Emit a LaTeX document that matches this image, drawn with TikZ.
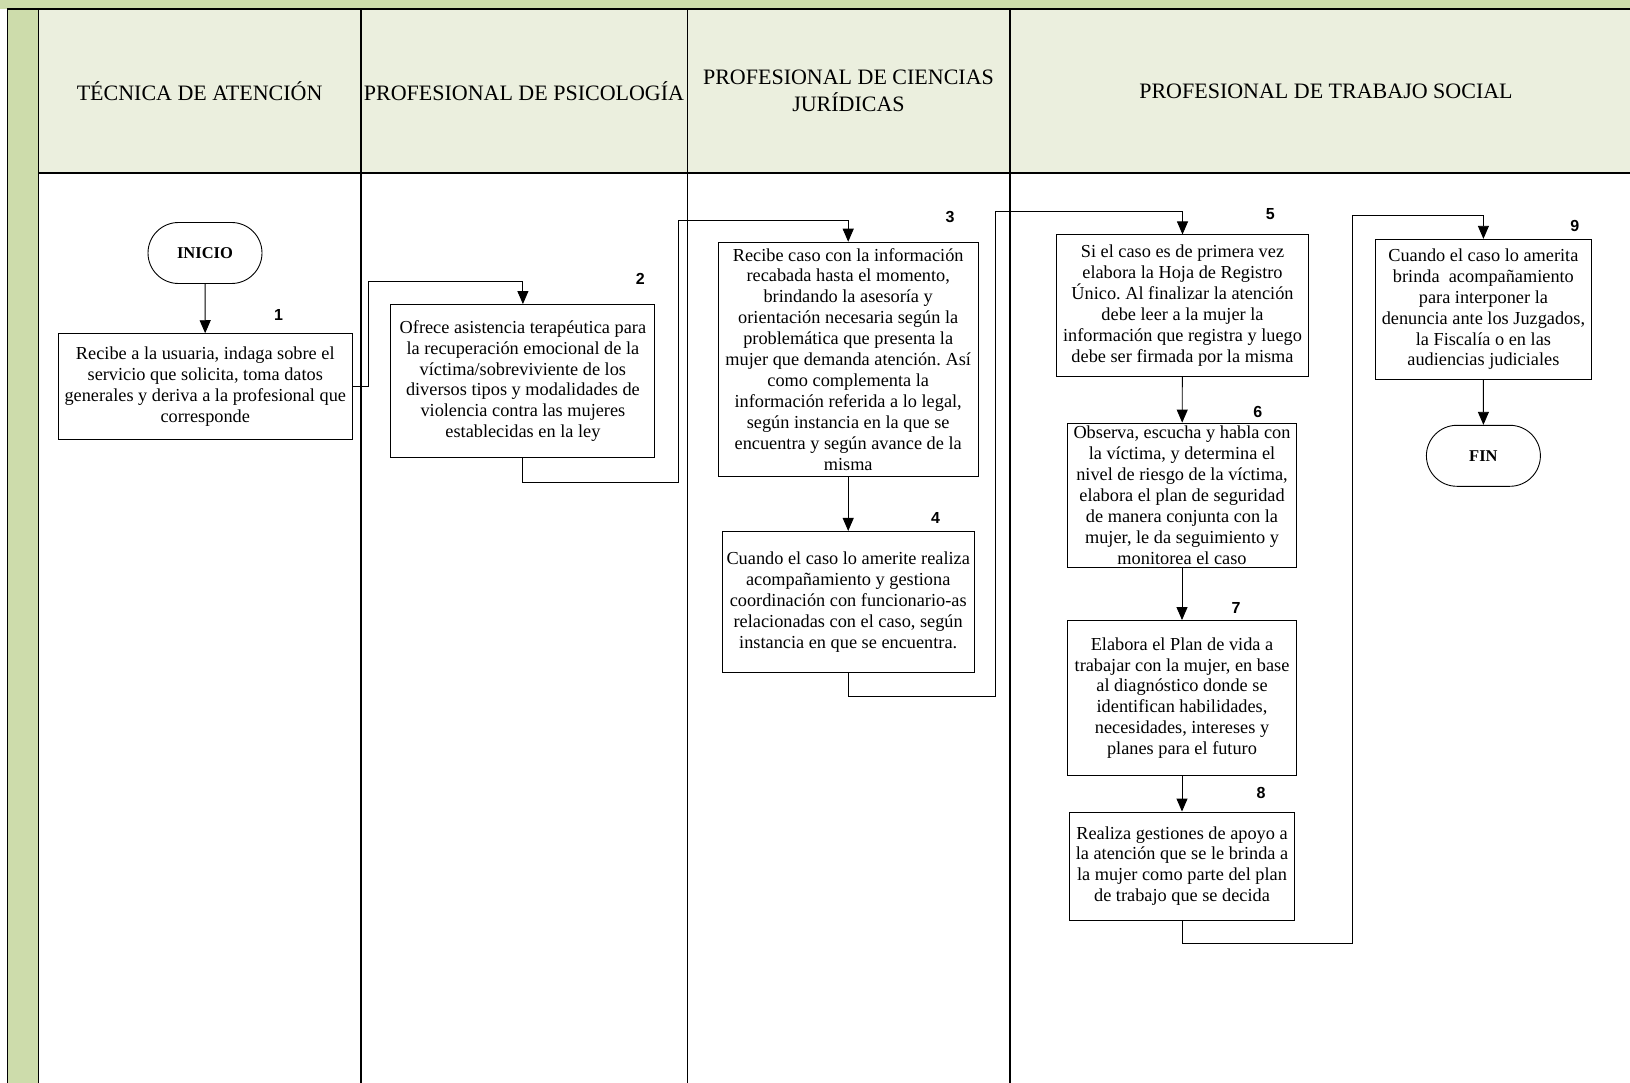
\documentclass[tikz,border=0pt]{standalone}
\usepackage{fontspec}
\setmainfont{Liberation Serif}
\newfontfamily\numfont{Liberation Sans}
\usetikzlibrary{arrows.meta,shapes.misc}
\definecolor{bandaverde}{HTML}{CDDCAB}
\definecolor{cabecera}{HTML}{EBEFDE}
\frenchspacing

\begin{document}
\begin{tikzpicture}[x=1pt,y=-1pt,
  paso/.style={draw,line width=0.9pt,align=center,inner sep=0pt,
    font=\fontsize{18.3}{20.9}\selectfont},
  terminal/.style={draw,rounded rectangle,line width=0.9pt,minimum width=114pt,
    minimum height=61pt,inner sep=0pt,font=\fontsize{16.5}{19}\selectfont\bfseries},
  numero/.style={font=\numfont\fontsize{16}{19}\selectfont\bfseries},
  titulo/.style={align=center,font=\fontsize{22}{27.5}\selectfont},
  flecha/.style={line width=0.9pt,-{Triangle[length=13pt,width=11pt]}},
  enlace/.style={line width=0.9pt}]
  \useasboundingbox (0,0) rectangle (1630,1083);

  % bands and lanes
  \fill[bandaverde] (0,0) rectangle (1630,9);
  \fill[bandaverde] (7.5,9) rectangle (38.5,1083);
  \fill[cabecera] (38.5,9) rectangle (1630,173);
  \draw[line width=1.3pt] (7.5,1083) -- (7.5,9) -- (1630,9);
  \draw[line width=1.3pt] (38.5,173) -- (1630,173);
  \foreach \x in {38.5,361,687.5,1010}
    \draw[line width=1.3pt] (\x,9) -- (\x,1083);

  % lane titles
  \node[titulo] (t1) at (199.6,91) {TÉCNICA DE ATENCIÓN};
  \node[titulo] (t2) at (524,91) {PROFESIONAL DE PSICOLOGÍA};
  \node[titulo] (t3) at (848.5,91) {PROFESIONAL DE CIENCIAS\\JURÍDICAS};
  \node[titulo] (t4) at (1326,91) {PROFESIONAL DE TRABAJO SOCIAL};

  % steps
  \node[terminal] (inicio) at (205,253) {INICIO};
  \node[paso,minimum width=294pt,minimum height=106pt] (paso1) at (205.3,386.7)
    {Recibe a la usuaria, indaga sobre el\\servicio que solicita, toma datos\\generales y deriva a la profesional que\\corresponde};
  \node[paso,minimum width=264pt,minimum height=153pt] (paso2) at (522.9,381)
    {Ofrece asistencia terapéutica para\\la recuperación emocional de la\\víctima/sobreviviente de los\\diversos tipos y modalidades de\\violencia contra las mujeres\\establecidas en la ley};
  \node[paso,minimum width=260pt,minimum height=234pt] (paso3) at (848.2,359.2)
    {Recibe caso con la información\\recabada hasta el momento,\\brindando la asesoría y\\orientación necesaria según la\\problemática que presenta la\\mujer que demanda atención. Así\\como complementa la\\información referida a lo legal,\\según instancia en la que se\\encuentra y según avance de la\\misma};
  \node[paso,minimum width=251.5pt,minimum height=141pt] (paso4) at (848.2,601.9)
    {Cuando el caso lo amerite realiza\\acompañamiento y gestiona\\coordinación con funcionario-as\\relacionadas con el caso, según\\instancia en que se encuentra.};
  \node[paso,minimum width=251.5pt,minimum height=141.4pt] (paso5) at (1182.5,305.6)
    {Si el caso es de primera vez\\elabora la Hoja de Registro\\Único. Al finalizar la atención\\debe leer a la mujer la\\información que registra y luego\\debe ser firmada por la misma};
  \node[paso,minimum width=228.7pt,minimum height=144.5pt] (paso6) at (1182,495.3)
    {Observa, escucha y habla con\\la víctima, y determina el\\nivel de riesgo de la víctima,\\elabora el plan de seguridad\\de manera conjunta con la\\mujer, le da seguimiento y\\monitorea el caso};
  \node[paso,minimum width=228.7pt,minimum height=155pt] (paso7) at (1182,698)
    {Elabora el Plan de vida a\\trabajar con la mujer, en base\\al diagnóstico donde se\\identifican habilidades,\\necesidades, intereses y\\planes para el futuro};
  \node[paso,minimum width=224.5pt,minimum height=108pt] (paso8) at (1182,866)
    {Realiza gestiones de apoyo a\\la atención que se le brinda a\\la mujer como parte del plan\\de trabajo que se decida};
  \node[paso,minimum width=216pt,minimum height=140pt] (paso9) at (1483.4,309.3)
    {Cuando el caso lo amerita\\brinda\ \ acompañamiento\\para interponer la\\denuncia ante los Juzgados,\\la Fiscalía o en las\\audiencias judiciales};
  \node[terminal] (fin) at (1483.4,455.8) {FIN};

  % step numbers
  \node[numero] (num1) at (278.6,315) {1};
  \node[numero] (num2) at (640.3,278.6) {2};
  \node[numero] (num3) at (950.1,217.3) {3};
  \node[numero] (num4) at (935.6,517.7) {4};
  \node[numero] (num5) at (1270.3,214.1) {5};
  \node[numero] (num6) at (1257.8,411.6) {6};
  \node[numero] (num7) at (1236,608.1) {7};
  \node[numero] (num8) at (1261,793.1) {8};
  \node[numero] (num9) at (1574.9,225.6) {9};

  % bends between lanes
  \coordinate (c23) at (678.8,220.4);
  \coordinate (c45) at (995.8,211);
  \coordinate (c89) at (1352.4,215.2);

  % connectors
  \draw[flecha] (inicio) -- (paso1);
  \draw[flecha] (paso1.east) -- ++(15.6,0) |- ([yshift=23pt]paso2.north) -- (paso2.north);
  \draw[flecha] (paso2.south) -- ++(0,24) -| (c23) -| (paso3.north);
  \draw[flecha] (paso3) -- (paso4);
  \draw[flecha] (paso4.south) -- ++(0,24) -| (c45) -| (paso5.north);
  \draw[flecha] (paso5) -- (paso6);
  \draw[flecha] (paso6) -- (paso7);
  \draw[flecha] (paso7) -- (paso8);
  \draw[flecha] (paso8.south) -- ++(0,23) -| (c89) -| (paso9.north);
  \draw[flecha] (paso9) -- (fin);
\end{tikzpicture}
\end{document}
